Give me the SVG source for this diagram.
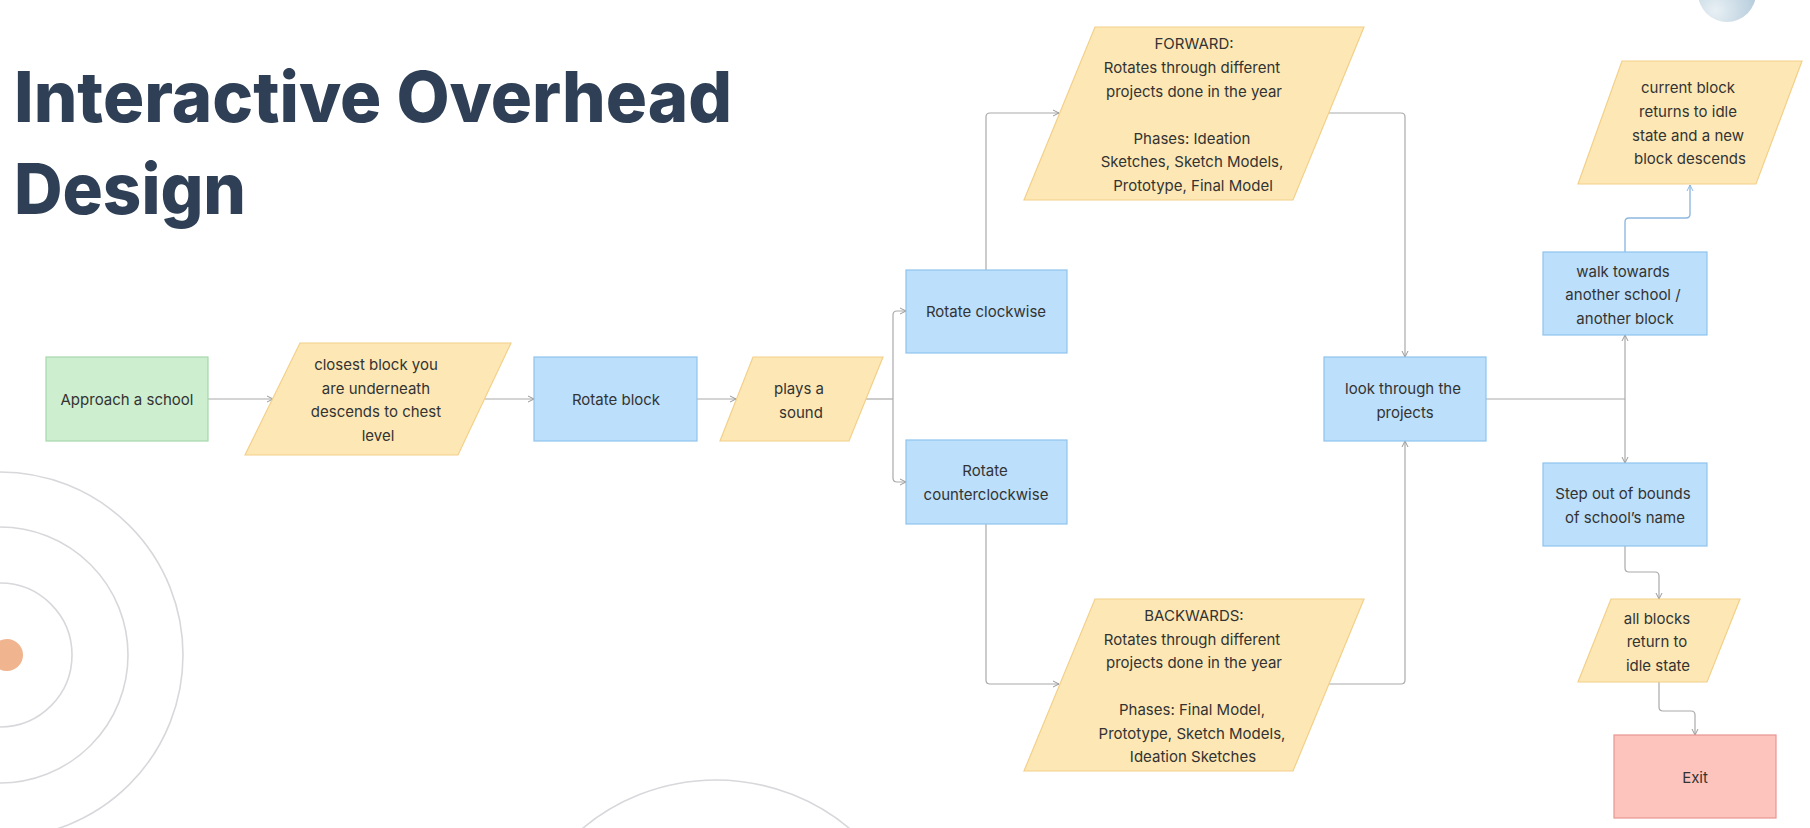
<svg xmlns="http://www.w3.org/2000/svg" width="1810" height="828" viewBox="0 0 1810 828">
<defs>
<marker id="ah" markerWidth="8" markerHeight="8" refX="7" refY="4" orient="auto" markerUnits="userSpaceOnUse"><path d="M1,1 L7,4 L1,7" fill="none" stroke="#999" stroke-width="1"/></marker>
<marker id="ahb" markerWidth="8" markerHeight="8" refX="7" refY="4" orient="auto" markerUnits="userSpaceOnUse"><path d="M1,1 L7,4 L1,7" fill="none" stroke="#8fb8e0" stroke-width="1"/></marker>
<radialGradient id="g1" cx="0.3" cy="0.8" r="0.9"><stop offset="0" stop-color="#e8f0f4"/><stop offset="1" stop-color="#a9c3d6"/></radialGradient>
<style>
.t{font-family:Inter,"Liberation Sans",sans-serif;font-size:15px;fill:#333;text-anchor:middle;dominant-baseline:central}
.title{font-family:Inter,"Liberation Sans",sans-serif;font-weight:800;font-size:70px;fill:#2e3f56}
.blue{fill:#bcdffb;stroke:#8fc3ef;stroke-width:1.2}
.yel{fill:#fde8b5;stroke:#f3d08a;stroke-width:1.2}
.grn{fill:#cdeecf;stroke:#a6d8ab;stroke-width:1.2}
.red{fill:#fcc4bd;stroke:#e8968f;stroke-width:1.2}
.c{fill:none;stroke:#aaa;stroke-width:1.2}
.ring{fill:none;stroke:#d8d8dc;stroke-width:1.6}
</style>
</defs>
<g id="decor">
<circle class="ring" cx="0" cy="655" r="72"/>
<circle class="ring" cx="0" cy="655" r="128"/>
<circle class="ring" cx="0" cy="655" r="183"/>
<circle cx="7" cy="655" r="16" fill="#f0b48e"/>
<circle class="ring" cx="716" cy="988" r="208"/>
<circle cx="1727" cy="-7" r="29" fill="url(#g1)"/>
</g>
<text class="title" x="14" y="122" textLength="718" lengthAdjust="spacingAndGlyphs">Interactive Overhead</text>
<text class="title" x="14" y="214" textLength="232" lengthAdjust="spacingAndGlyphs">Design</text>
<g id="connectors">
<path class="c" d="M208,399 H273" marker-end="url(#ah)"/>
<path class="c" d="M485,399 H534" marker-end="url(#ah)"/>
<path class="c" d="M697,399 H736" marker-end="url(#ah)"/>
<path class="c" d="M866,399 H893"/>
<path class="c" d="M893,399 V315 Q893,311 897,311 H906" marker-end="url(#ah)"/>
<path class="c" d="M893,399 V478 Q893,482 897,482 H906" marker-end="url(#ah)"/>
<path class="c" d="M986,270 V117 Q986,113 990,113 H1059" marker-end="url(#ah)"/>
<path class="c" d="M1329,113 H1401 Q1405,113 1405,117 V357" marker-end="url(#ah)"/>
<path class="c" d="M986,524 V680 Q986,684 990,684 H1059" marker-end="url(#ah)"/>
<path class="c" d="M1329,684 H1401 Q1405,684 1405,680 V441" marker-end="url(#ah)"/>
<path class="c" d="M1486,399 H1625"/>
<path class="c" d="M1625,399 V335" marker-end="url(#ah)"/>
<path class="c" d="M1625,399 V463" marker-end="url(#ah)"/>
<path d="M1625,252 V222 Q1625,218 1629,218 H1686 Q1690,218 1690,214 V185" fill="none" stroke="#8fb8e0" stroke-width="1.4" marker-end="url(#ahb)"/>
<path class="c" d="M1625,546 V568 Q1625,572 1629,572 H1655 Q1659,572 1659,576 V599" marker-end="url(#ah)"/>
<path class="c" d="M1659,682 V707 Q1659,711 1663,711 H1691 Q1695,711 1695,715 V735" marker-end="url(#ah)"/>
</g>
<g id="approach"><rect class="grn" x="46" y="357" width="162" height="84"/><text class="t" x="127" y="399">Approach a school</text></g>
<g id="closest"><polygon class="yel" points="300,343 511,343 458,455 245,455"/>
<text class="t" x="376" y="364">closest block you</text><text class="t" x="376" y="388">are underneath</text><text class="t" x="376" y="411">descends to chest</text><text class="t" x="378" y="435">level</text></g>
<g id="rotate"><rect class="blue" x="534" y="357" width="163" height="84"/><text class="t" x="616" y="399">Rotate block</text></g>
<g id="sound"><polygon class="yel" points="753,357 883,357 849,441 720,441"/>
<text class="t" x="799" y="388">plays a</text><text class="t" x="801" y="412">sound</text></g>
<g id="cw"><rect class="blue" x="906" y="270" width="161" height="83"/><text class="t" x="986" y="311">Rotate clockwise</text></g>
<g id="ccw"><rect class="blue" x="906" y="440" width="161" height="84"/><text class="t" x="985" y="470">Rotate</text><text class="t" x="986" y="494">counterclockwise</text></g>
<g id="forward"><polygon class="yel" points="1095,27 1364,27 1293,200 1024,200"/>
<text class="t" x="1194" y="43">FORWARD:</text><text class="t" x="1192" y="67">Rotates through different</text><text class="t" x="1194" y="91">projects done in the year</text>
<text class="t" x="1192" y="138">Phases: Ideation</text><text class="t" x="1192" y="161">Sketches, Sketch Models,</text><text class="t" x="1193" y="185">Prototype, Final Model</text></g>
<g id="backwards"><polygon class="yel" points="1095,599 1364,599 1293,771 1024,771"/>
<text class="t" x="1194" y="615">BACKWARDS:</text><text class="t" x="1192" y="639">Rotates through different</text><text class="t" x="1194" y="662">projects done in the year</text>
<text class="t" x="1192" y="709">Phases:  Final Model,</text><text class="t" x="1192" y="733">Prototype, Sketch Models,</text><text class="t" x="1193" y="756">Ideation Sketches</text></g>
<g id="look"><rect class="blue" x="1324" y="357" width="162" height="84"/><text class="t" x="1403" y="388">look through the</text><text class="t" x="1405" y="412">projects</text></g>
<g id="walk"><rect class="blue" x="1543" y="252" width="164" height="83"/><text class="t" x="1623" y="271">walk towards</text><text class="t" x="1623" y="294">another school /</text><text class="t" x="1625" y="318">another block</text></g>
<g id="current"><polygon class="yel" points="1622,61 1802,61 1756,184 1578,184"/>
<text class="t" x="1688" y="87">current block</text><text class="t" x="1688" y="111">returns to idle</text><text class="t" x="1688" y="135">state and a new</text><text class="t" x="1690" y="158">block descends</text></g>
<g id="step"><rect class="blue" x="1543" y="463" width="164" height="83"/><text class="t" x="1623" y="493">Step out of bounds</text><text class="t" x="1625" y="517">of school’s name</text></g>
<g id="allblocks"><polygon class="yel" points="1611,599 1740,599 1707,682 1578,682"/>
<text class="t" x="1657" y="618">all blocks</text><text class="t" x="1657" y="641">return to</text><text class="t" x="1658" y="665">idle state</text></g>
<g id="exit"><rect class="red" x="1614" y="735" width="162" height="83"/><text class="t" x="1695" y="777">Exit</text></g>
</svg>
